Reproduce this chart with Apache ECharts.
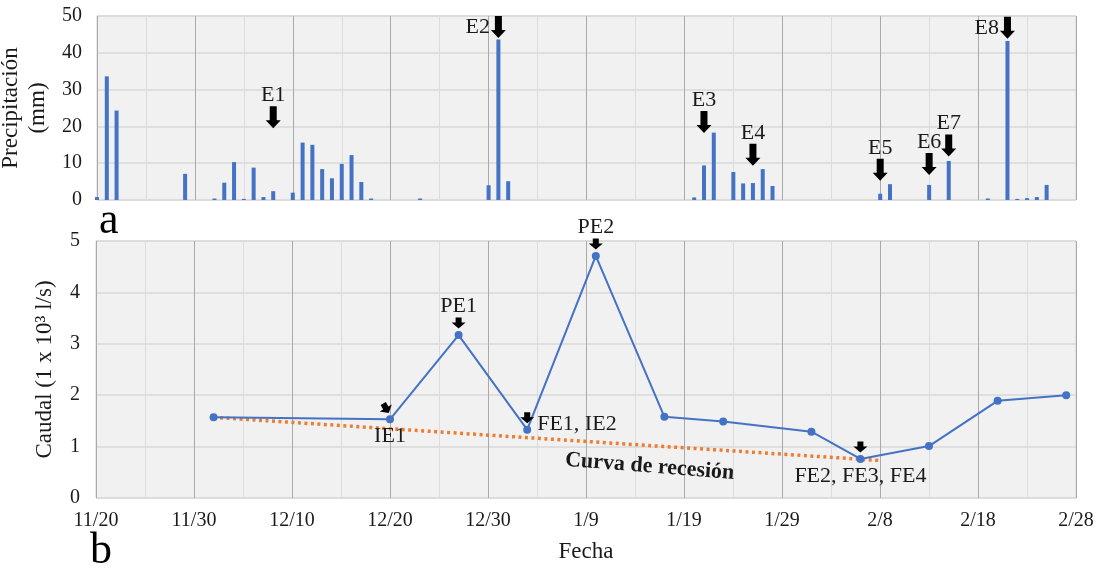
<!DOCTYPE html>
<html>
<head>
<meta charset="utf-8">
<script src="https://cdn.jsdelivr.net/npm/echarts@6/dist/echarts.min.js"></script>
<style>
  html, body { margin: 0; padding: 0; background: #fff; }
  #chart { width: 1098px; height: 570px; }
</style>
</head>
<body>
<div id="chart"></div>
<script>
// Daily precipitation (mm)
const rainDates = [
  '2018-11-20','2018-11-21','2018-11-22','2018-11-29','2018-12-02','2018-12-03','2018-12-04',
  '2018-12-05','2018-12-06','2018-12-07','2018-12-08','2018-12-10','2018-12-11','2018-12-12',
  '2018-12-13','2018-12-14','2018-12-15','2018-12-16','2018-12-17','2018-12-18','2018-12-23',
  '2018-12-30','2018-12-31','2019-01-01','2019-01-20','2019-01-21','2019-01-22','2019-01-24',
  '2019-01-25','2019-01-26','2019-01-27','2019-01-28','2019-02-08','2019-02-09','2019-02-13',
  '2019-02-15','2019-02-19','2019-02-21','2019-02-22','2019-02-23','2019-02-24','2019-02-25'
];
const rainMm = [
  0.8, 33.6, 24.3, 7.1, 0.4, 4.7, 10.3,
  0.3, 8.8, 0.8, 2.4, 2.0, 15.6, 15.0,
  8.4, 5.9, 9.8, 12.2, 4.9, 0.4, 0.4,
  4.0, 43.6, 5.1, 0.7, 9.4, 18.3, 7.6,
  4.5, 4.6, 8.4, 3.8, 1.7, 4.3, 4.1,
  10.6, 0.4, 43.2, 0.3, 0.5, 0.8, 4.1
];

// Rain events (name, date, arrow tip height in mm, label side)
const eventNames = ['E1', 'E2', 'E3', 'E4', 'E5', 'E6', 'E7', 'E8'];
const eventDates = ['2018-12-08','2018-12-31','2019-01-21','2019-01-26','2019-02-08','2019-02-13','2019-02-15','2019-02-21'];
const eventTips  = [19.5, 44, 18.2, 9.3, 5.2, 6.8, 11.8, 43.8];
const eventSides = ['top', 'left', 'top', 'top', 'top', 'top', 'top', 'left'];

// Discharge (1 x 10^3 l/s)
const flowDates = ['2018-12-02','2018-12-20','2018-12-27','2019-01-03','2019-01-10','2019-01-17',
                   '2019-01-23','2019-02-01','2019-02-06','2019-02-13','2019-02-20','2019-02-27'];
const flowValues = [1.57, 1.53, 3.17, 1.33, 4.71, 1.58, 1.49, 1.29, 0.76, 1.01, 1.89, 2.0];

// Recession curve end points
const recessionDates = ['2018-12-02', '2019-02-08'];
const recessionValues = [1.57, 0.73];

// Hydrograph markers: label, date, label placement, arrow rotation
const markNames  = ['IE1', 'PE1', 'FE1, IE2', 'PE2', 'FE2, FE3, FE4'];
const markDates  = ['2018-12-20', '2018-12-27', '2019-01-03', '2019-01-10', '2019-02-06'];
const markSides  = ['bottom', 'top', 'right', 'top', 'bottom'];
const markRotate = [30, 0, 0, 0, 0];

// Axis ranges
const xTickDays = 10;
const rainMax = 50, rainStep = 10;
const flowMax = 5, flowStep = 1;

const START = Date.UTC(2018, 10, 20);
function dayOf(s) {
  const p = s.split('-').map(Number);
  return (Date.UTC(p[0], p[1] - 1, p[2]) - START) / 864e5;
}
function fmtDay(day) {
  const dt = new Date(START + day * 864e5);
  return (dt.getUTCMonth() + 1) + '/' + dt.getUTCDate();
}
function flowAt(date) { return flowValues[flowDates.indexOf(date)]; }

const FONT = 'Liberation Serif';
const TXT = '#1a1a1a';
const BLUE = '#4472c4';
const ORANGE = '#ed7d31';
const BIG_ARROW = 'path://M4,0 L11,0 L11,14 L15,14 L7.5,22 L0,14 L4,14 Z';
const SMALL_ARROW = 'path://M4,0 L10,0 L10,5 L14,5 L7,11 L0,5 L4,5 Z';

const xAxisBase = {
  type: 'value', min: 0, max: 100, interval: xTickDays,
  axisLine: { show: false },
  axisTick: { show: false },
  splitLine: { show: true, lineStyle: { color: '#a9a9a9', width: 1 } },
  minorTick: { show: false, splitNumber: 2 },
  minorSplitLine: { show: true, lineStyle: { color: '#dcdcdc', width: 1 } }
};

const chart = echarts.init(document.getElementById('chart'), null, { renderer: 'canvas' });

const rainMarks = eventNames.map((n, i) => ({
  name: n,
  coord: [dayOf(eventDates[i]), eventTips[i]],
  symbol: BIG_ARROW,
  symbolSize: [15, 22],
  symbolOffset: [0, -11],
  itemStyle: { color: '#000' },
  label: {
    show: true, formatter: n, position: eventSides[i], distance: eventSides[i] === 'left' ? 1 : 0,
    fontFamily: FONT, fontSize: 22, color: TXT
  }
}));

const flowArrows = markDates.map((d, i) => ({
  coord: [dayOf(d), flowAt(d)],
  symbol: SMALL_ARROW,
  symbolSize: [14, 11],
  symbolRotate: markRotate[i],
  symbolOffset: markRotate[i] ? [-4, -11] : [0, -12],
  itemStyle: { color: '#000' },
  label: { show: false }
}));
const labelDistance = { top: 18, bottom: 6, right: 10 };
const flowLabels = markNames.map((n, i) => {
  const side = markSides[i];
  return {
    coord: [dayOf(markDates[i]), flowAt(markDates[i])],
    symbol: 'circle', symbolSize: 0,
    label: {
      show: true, formatter: n, position: side,
      distance: labelDistance[side],
      offset: side === 'right' ? [0, -5] : [0, 0],
      fontFamily: FONT, fontSize: 22, color: TXT
    }
  };
});

chart.setOption({
  animation: false,
  backgroundColor: '#ffffff',
  textStyle: { fontFamily: FONT },
  grid: [
    { left: 97, right: 22, top: 16, height: 184, outerBoundsMode: 'none', show: true, backgroundColor: '#f1f1f1', borderColor: '#d4d4d4', borderWidth: 1 },
    { left: 96, right: 22, top: 241, height: 257, outerBoundsMode: 'none', show: true, backgroundColor: '#f1f1f1', borderColor: '#d4d4d4', borderWidth: 1 }
  ],
  xAxis: [
    Object.assign({}, xAxisBase, { gridIndex: 0, axisLabel: { show: false } }),
    Object.assign({}, xAxisBase, {
      gridIndex: 1,
      name: 'Fecha', nameLocation: 'middle', nameGap: 42,
      nameTextStyle: { fontFamily: FONT, fontSize: 23, color: TXT },
      axisLabel: { show: true, formatter: v => fmtDay(v), fontFamily: FONT, fontSize: 20, color: TXT, margin: 13 }
    })
  ],
  yAxis: [
    {
      type: 'value', gridIndex: 0, min: 0, max: rainMax, interval: rainStep,
      name: 'Precipitación\n(mm)', nameLocation: 'middle', nameGap: 37,
      nameTextStyle: { fontFamily: FONT, fontSize: 23, color: TXT, lineHeight: 27 },
      axisLine: { show: false }, axisTick: { show: false },
      axisLabel: { fontFamily: FONT, fontSize: 20, color: TXT, margin: 15 },
      splitLine: { lineStyle: { color: '#d9d9d9', width: 1.5 } }
    },
    {
      type: 'value', gridIndex: 1, min: 0, max: flowMax, interval: flowStep,
      name: 'Caudal (1 x 10³ l/s)', nameLocation: 'middle', nameGap: 36,
      nameTextStyle: { fontFamily: FONT, fontSize: 23, color: TXT, lineHeight: 28 },
      axisLine: { show: false }, axisTick: { show: false },
      axisLabel: { fontFamily: FONT, fontSize: 20, color: TXT, margin: 16 },
      splitLine: { lineStyle: { color: '#d9d9d9', width: 1.5 } }
    }
  ],
  series: [
    {
      name: 'Precipitación', type: 'bar', xAxisIndex: 0, yAxisIndex: 0,
      data: rainDates.map((d, i) => [dayOf(d), rainMm[i]]),
      barWidth: 4, itemStyle: { color: BLUE },
      markPoint: { animation: false, data: rainMarks }
    },
    {
      name: 'Curva de recesión', type: 'line', xAxisIndex: 1, yAxisIndex: 1,
      data: recessionDates.map((d, i) => [dayOf(d), recessionValues[i]]),
      showSymbol: false, symbol: 'none', z: 3,
      lineStyle: { color: ORANGE, width: 3.5, type: [3, 3.5] },
      markPoint: {
        animation: false,
        data: [{
          coord: [56.5, 0.61], symbol: 'circle', symbolSize: 0,
          label: {
            show: true, formatter: 'Curva de recesión', position: 'inside', rotate: -4.5,
            fontFamily: FONT, fontSize: 22, fontWeight: 'bold', color: TXT
          }
        }]
      }
    },
    {
      name: 'Caudal', type: 'line', xAxisIndex: 1, yAxisIndex: 1,
      data: flowDates.map((d, i) => [dayOf(d), flowValues[i]]),
      symbol: 'circle', symbolSize: 8, z: 4,
      lineStyle: { color: BLUE, width: 2 },
      itemStyle: { color: BLUE },
      markPoint: { animation: false, data: flowArrows.concat(flowLabels) }
    }
  ],
  graphic: [
    { type: 'text', left: 99, top: 199, style: { text: 'a', font: '44px "Liberation Serif"', fill: '#000' } },
    { type: 'text', left: 90, top: 529, style: { text: 'b', font: '44px "Liberation Serif"', fill: '#000' } }
  ]
});
</script>
</body>
</html>
